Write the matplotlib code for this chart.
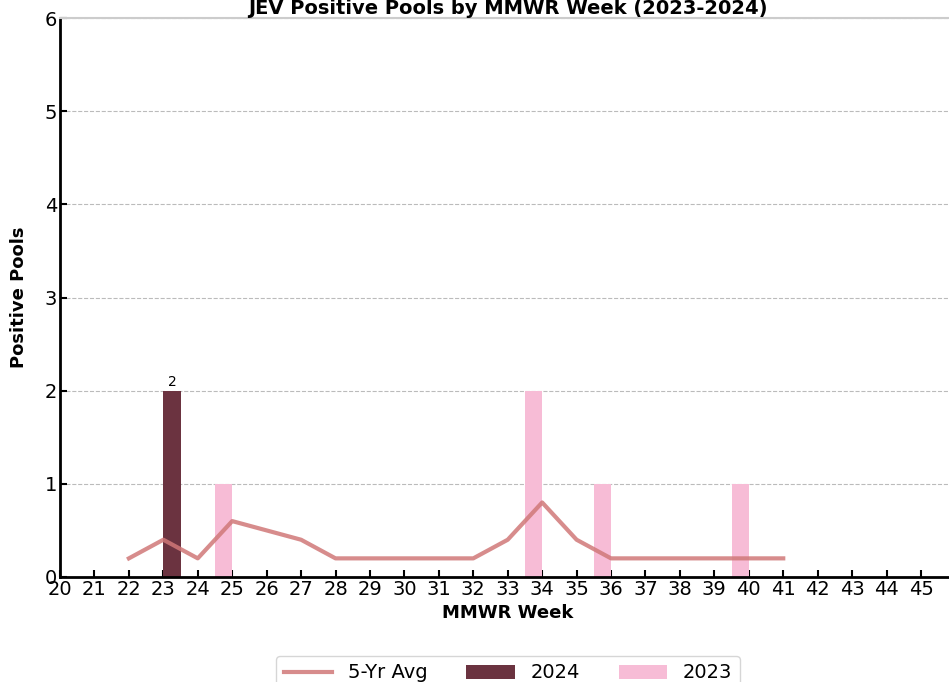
import matplotlib.pyplot as plt

weeks = list(range(20, 46))

avg_weeks = [22, 23, 24, 25, 26, 27, 28, 29, 30, 31, 32, 33, 34, 35, 36, 37, 38, 39, 40, 41]
avg_vals = [0.2, 0.4, 0.2, 0.6, 0.5, 0.4, 0.2, 0.2, 0.2, 0.2, 0.2, 0.4, 0.8, 0.4, 0.2, 0.2, 0.2, 0.2, 0.2, 0.2]

weeks_2024 = [23]
vals_2024 = [2]

weeks_2023 = [25, 34, 36, 40]
vals_2023 = [1, 2, 1, 1]

plt.rcParams['font.family'] = ['DejaVu Sans']

fig = plt.figure(figsize=(9.49, 6.82), dpi=100)
ax = fig.add_axes([60 / 949, 1 - 577 / 682, (26 * 34.44) / 949, (577 - 18) / 682])

ax.plot(avg_weeks, avg_vals, color='#d07878', alpha=0.85, linewidth=3, label='5-Yr Avg', zorder=3)
bars = ax.bar([w + 0.25 for w in weeks_2024], vals_2024, width=0.5, color='#6b3340', label='2024', zorder=2)
ax.bar([w - 0.25 for w in weeks_2023], vals_2023, width=0.5, color='#f7bcd6', label='2023', zorder=2)

for b, v in zip(bars, vals_2024):
    ax.text(b.get_x() + b.get_width() / 2, v + 0.02, str(v), ha='center', va='bottom', fontsize=10)

ax.set_xlim(20, 46)
ax.set_ylim(0, 6)
ax.set_xticks(weeks)
ax.set_yticks(range(0, 7))
ax.tick_params(direction='in', labelsize=14, width=1.5, length=5, pad=2)
ax.grid(axis='y', linestyle='--', color='#bbbbbb', linewidth=0.8)
ax.set_axisbelow(True)

ax.spines['left'].set_linewidth(2)
ax.spines['bottom'].set_linewidth(2)
ax.spines['right'].set_visible(False)
ax.spines['top'].set_color('#cccccc')
ax.spines['top'].set_linewidth(1.5)

ax.set_xlabel('MMWR Week', fontsize=13, fontweight='bold', labelpad=4)
ax.set_ylabel('Positive Pools', fontsize=13, fontweight='bold', labelpad=12)
ax.set_title('JEV Positive Pools by MMWR Week (2023-2024)', fontsize=14, fontweight='bold', pad=1)

fig.legend(loc='upper center', bbox_to_anchor=(508 / 949, 1 - 646 / 682), ncol=3, fontsize=14,
           frameon=True, edgecolor='#cccccc', fancybox=True, columnspacing=2.0, handlelength=2.5)

fig.savefig('out.png', dpi=100)
